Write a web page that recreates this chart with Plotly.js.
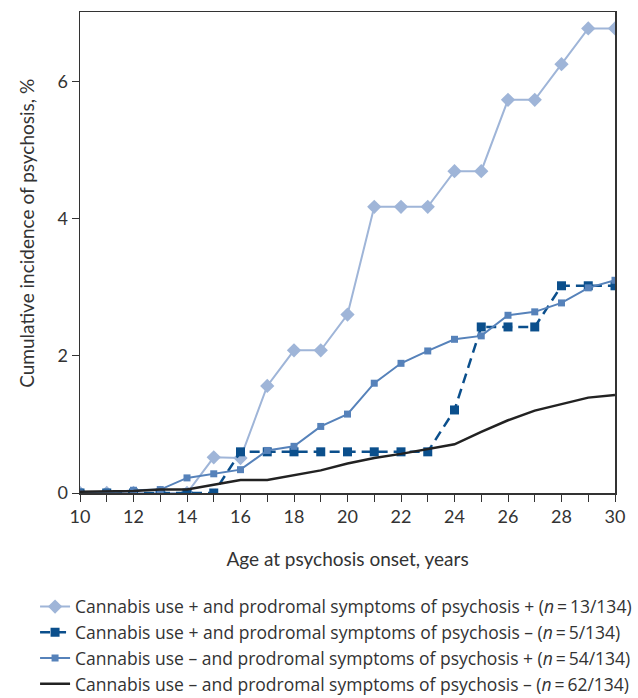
<!DOCTYPE html>
<html><head><meta charset="utf-8">
<script src="https://cdn.plot.ly/plotly-3.0.1.min.js"></script>
<style>body{margin:0;padding:0;background:#fff}#chart{width:638px;height:698px}</style>
</head><body><div id="chart"></div>
<script>
const ages = [10,11,12,13,14,15,16,17,18,19,20,21,22,23,24,25,26,27,28,29,30];
const cannabisPosProdromalPos = [0,0,0,0,0,0.52,0.51,1.56,2.08,2.08,2.6,4.17,4.17,4.17,4.69,4.69,5.73,5.73,6.25,6.77,6.77];
const cannabisPosProdromalNeg = [0,0,0,0,0,0,0.6,0.6,0.6,0.6,0.6,0.6,0.6,0.6,1.21,2.42,2.42,2.42,3.02,3.02,3.02];
const cannabisNegProdromalPos = [0,0,0.04,0.05,0.22,0.28,0.34,0.62,0.68,0.97,1.15,1.6,1.89,2.07,2.24,2.29,2.59,2.64,2.77,2.99,3.1];
const cannabisNegProdromalNeg = [0.02,0.02,0.03,0.05,0.05,0.12,0.19,0.19,0.26,0.33,0.43,0.51,0.57,0.64,0.71,0.89,1.06,1.2,1.3,1.39,1.43];
const seriesNames = [
  'Cannabis use + and prodromal symptoms of psychosis + (<i>n</i>\u2009=\u200913/134)',
  'Cannabis use + and prodromal symptoms of psychosis \u2013 (<i>n</i>\u2009=\u20095/134)',
  'Cannabis use \u2013 and prodromal symptoms of psychosis + (<i>n</i>\u2009=\u200954/134)',
  'Cannabis use \u2013 and prodromal symptoms of psychosis \u2013 (<i>n</i>\u2009=\u200962/134)'
];
const xTickVals = [10,12,14,16,18,20,22,24,26,28,30];
const yTickVals = [0,2,4,6];
const xTitle = 'Age at psychosis onset, years';
const yTitle = 'Cumulative incidence of psychosis, %';

const font = 'Lato, "Open Sans", sans-serif';
const traces = [
  {x: ages, y: cannabisPosProdromalPos, name: seriesNames[0], mode: 'lines+markers',
   line: {color: '#9fb5d8', width: 2}, marker: {symbol: 'diamond', size: 11, color: '#9fb5d8'}},
  {x: ages, y: cannabisPosProdromalNeg, name: seriesNames[1], mode: 'lines+markers',
   line: {color: '#0b4f8c', width: 2.5, dash: '10px,6px'}, marker: {symbol: 'square', size: 9, color: '#0b4f8c'}},
  {x: ages, y: cannabisNegProdromalPos, name: seriesNames[2], mode: 'lines+markers',
   line: {color: '#5682ba', width: 2}, marker: {symbol: 'square', size: 7, color: '#5682ba'}},
  {x: ages, y: cannabisNegProdromalNeg, name: seriesNames[3], mode: 'lines',
   line: {color: '#222222', width: 2.5}}
];
const layout = {
  width: 638, height: 698,
  margin: {l: 80, r: 23, t: 12, b: 205, autoexpand: false},
  paper_bgcolor: '#fff', plot_bgcolor: '#fff',
  font: {family: font, color: '#333', size: 17},
  showlegend: true,
  legend: {x: -0.084, y: -0.199, xanchor: 'left', yanchor: 'top',
    font: {family: '"Open Sans", Lato, sans-serif', size: 17.5, color: '#333'},
    tracegroupgap: 0, itemwidth: 30, bgcolor: 'rgba(0,0,0,0)'},
  xaxis: {range: [10, 30], tickvals: xTickVals, showgrid: false, zeroline: false,
    showline: true, linecolor: '#333', linewidth: 1.5, mirror: true,
    ticks: 'outside', ticklen: 7, tickcolor: '#333',
    minor: {ticks: 'outside', ticklen: 7, dtick: 1, tickcolor: '#333'},
    tickfont: {size: 18, color: '#333'},
    title: {text: xTitle, font: {size: 19, color: '#333'}, standoff: 26}},
  yaxis: {range: [0, 7.01], tickvals: yTickVals, showgrid: false, zeroline: false,
    showline: true, linecolor: '#333', linewidth: 1.5, mirror: true,
    ticks: 'outside', ticklen: 7, tickcolor: '#333',
    tickfont: {size: 18, color: '#333'}},
  annotations: [{text: yTitle, xref: 'paper', yref: 'paper', x: -0.1, y: 0.54,
    xanchor: 'center', yanchor: 'middle', textangle: -90, showarrow: false,
    font: {size: 19, color: '#333'}}]
};
Plotly.newPlot('chart', traces, layout, {displayModeBar: false, staticPlot: true});
</script></body></html>
